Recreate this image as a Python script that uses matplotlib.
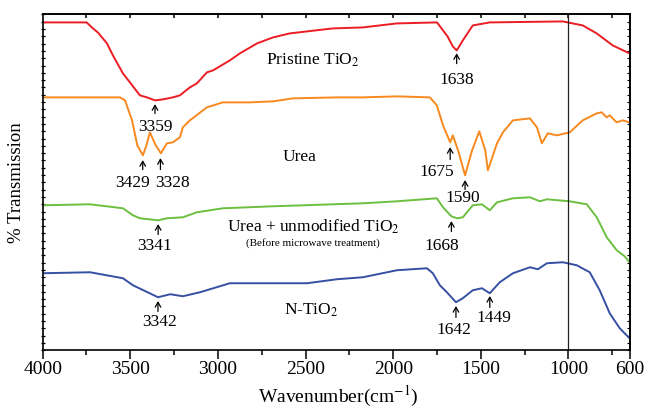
import numpy as np
import matplotlib
matplotlib.use("Agg")
import matplotlib.pyplot as plt

plt.rcParams['font.family'] = ['Liberation Serif', 'DejaVu Serif']
plt.rcParams['mathtext.fontset'] = 'stix'

# wavenumbers (cm-1) and transmission (stacked, arbitrary units)
pristine_wn = [4000, 3749, 3713, 3685, 3633, 3599, 3542, 3502, 3445, 3405, 3359, 3313, 3257, 3217,
               3160, 3120, 3063, 3028, 2932, 2875, 2777, 2686, 2590, 2492, 2344, 2173, 1979, 1750,
               1716, 1690, 1660, 1638, 1620, 1603, 1546, 1449, 1033, 919, 839, 748, 652]
pristine_t = [328, 328, 322, 318, 307, 295, 277, 268, 255, 253, 250, 251, 253, 255,
              263, 267, 278, 280, 290, 297, 307, 313, 317, 319, 322, 323, 327, 328,
              320, 314, 304, 300, 305, 310, 325, 328, 329, 325, 317, 305, 297]

urea_wn = [4000, 3559, 3530, 3490, 3460, 3428, 3408, 3388, 3355, 3325, 3291, 3257, 3217, 3200,
           3160, 3063, 2972, 2817, 2686, 2572, 2321, 2173, 1979, 1791, 1751, 1716, 1675, 1660,
           1630, 1590, 1550, 1509, 1475, 1460, 1408, 1374, 1317, 1220, 1180, 1152, 1118, 1066,
           993, 919, 839, 811, 782, 765, 725, 691, 652]
urea_t = [253, 253, 250, 230, 205, 195, 205, 218, 205, 197, 207, 208, 213, 223,
          230, 243, 248, 248, 249, 252, 253, 253, 254, 253, 245, 225, 208, 215,
          200, 175, 200, 219, 200, 180, 207, 218, 230, 232, 223, 207, 217, 215,
          218, 230, 237, 238, 233, 235, 228, 230, 228]

mix_wn = [4000, 3730, 3542, 3485, 3445, 3341, 3291, 3200, 3120, 2972, 2686, 2344, 2173, 1979,
          1751, 1716, 1668, 1636, 1603, 1546, 1494, 1449, 1408, 1317, 1220, 1163, 1123, 993,
          896, 839, 782, 725, 680, 652]
mix_t = [145, 146, 142, 135, 132, 130, 132, 133, 138, 142, 144, 146, 147, 149,
         152, 143, 134, 132, 133, 145, 146, 140, 148, 152, 153, 149, 151, 149,
         146, 133, 113, 100, 94, 88]

ntio2_wn = [4000, 3730, 3542, 3485, 3342, 3272, 3200, 3102, 2932, 2686, 2492, 2321, 2173, 1979,
            1808, 1774, 1734, 1694, 1642, 1603, 1546, 1494, 1449, 1392, 1317, 1220, 1175, 1123,
            1032, 953, 879, 822, 765, 708, 652]
ntio2_t = [77, 78, 72, 65, 53, 56, 54, 58, 67, 67, 67, 71, 73, 80,
           82, 77, 65, 58, 48, 52, 60, 62, 57, 68, 77, 83, 81, 87,
           88, 85, 78, 60, 37, 22, 12]

series = [
    ("Pristine", pristine_wn, pristine_t, "#ec1c24"),
    ("Urea", urea_wn, urea_t, "#f7891f"),
    ("Urea+TiO2", mix_wn, mix_t, "#6cbf3f"),
    ("N-TiO2", ntio2_wn, ntio2_t, "#3550a3"),
]

# (label, wavenumber, arrow tip, arrow tail, text x, text y)
peaks = [
    ("3359", 3359, 249, 234, 3359, 223),
    ("1638", 1638, 300, 284, 1638, 270),
    ("3429", 3429, 193, 178, 3485, 167),
    ("3328", 3328, 195, 178, 3257, 167),
    ("1675", 1675, 206, 188, 1751, 178),
    ("1590", 1590, 173, 158, 1603, 152),
    ("3341", 3341, 129, 113, 3359, 104),
    ("1668", 1668, 132, 116, 1722, 104),
    ("3342", 3342, 52, 36, 3331, 28),
    ("1642", 1642, 47, 30, 1654, 20),
    ("1449", 1449, 57, 40, 1425, 32),
]

fig = plt.figure(figsize=(6.46, 4.12), dpi=100)
ax = fig.add_axes([0.066, 0.150, 0.909, 0.815])

for name, wn, t, c in series:
    ax.plot(wn, t, color=c, lw=1.4)

ax.axvline(1000, color="#222222", lw=0.9)

for lab, wn, tip, tail, tx, ty in peaks:
    ax.annotate("", xy=(wn, tip), xytext=(wn, tail),
                arrowprops=dict(arrowstyle="->,head_length=0.35,head_width=0.2", lw=0.9, color="black"))
    ax.text(tx, ty, lab, ha="center", va="center", fontsize=12.5)

ax.text(2458, 290, "Pristine TiO$_2$", ha="center", va="center", fontsize=12.5)
ax.text(2532, 193, "Urea", ha="center", va="center", fontsize=12.5)
ax.text(2458, 123, "Urea + unmodified TiO$_2$", ha="center", va="center", fontsize=12.5)
ax.text(2458, 107, "(Before microwave treatment)", ha="center", va="center", fontsize=8)
ax.text(2469, 40, "N-TiO$_2$", ha="center", va="center", fontsize=12.5)

ax.set_xlim(4000, 650)
ax.set_ylim(0, 336)
ax.set_xticks([4000, 3500, 3000, 2500, 2000, 1500, 1000, 650])
ax.set_xticklabels(["4000", "3500", "3000", "2500", "2000", "1500", "1000", "600"])
ax.set_xticks([3750, 3250, 2750, 2250, 1750, 1250, 750], minor=True)
ax.tick_params(axis="x", which="major", direction="out", length=6.5, width=1.1, labelsize=14, pad=1)
ax.tick_params(axis="x", which="minor", direction="out", length=3.5, width=1.1)
ax.set_yticks(np.linspace(0, 336, 47))
ax.tick_params(axis="y", direction="inout", length=3, width=0.9, labelleft=False)

top = ax.secondary_xaxis("top")
top.set_xticks([3750, 3500, 3250, 3000, 2750, 2500, 2250, 2000, 1750, 1500, 1250, 1000, 750])
top.tick_params(direction="in", length=3, width=1.1, labeltop=False)
right = ax.secondary_yaxis("right")
right.set_yticks(np.linspace(0, 336, 47))
right.tick_params(direction="in", length=2, width=0.8, labelright=False)

for sp in list(ax.spines.values()) + [top.spines["top"], right.spines["right"]]:
    sp.set_linewidth(1.2)

ax.set_ylabel("% Transmission", fontsize=13.5)
ax.yaxis.set_label_coords(-0.03, 0.5)
fig.text(338 / 646, 1 - 396 / 412, "Wavenumber(cm$^{-1}$)", ha="center", va="center", fontsize=14)

fig.savefig("out.png", dpi=100)
